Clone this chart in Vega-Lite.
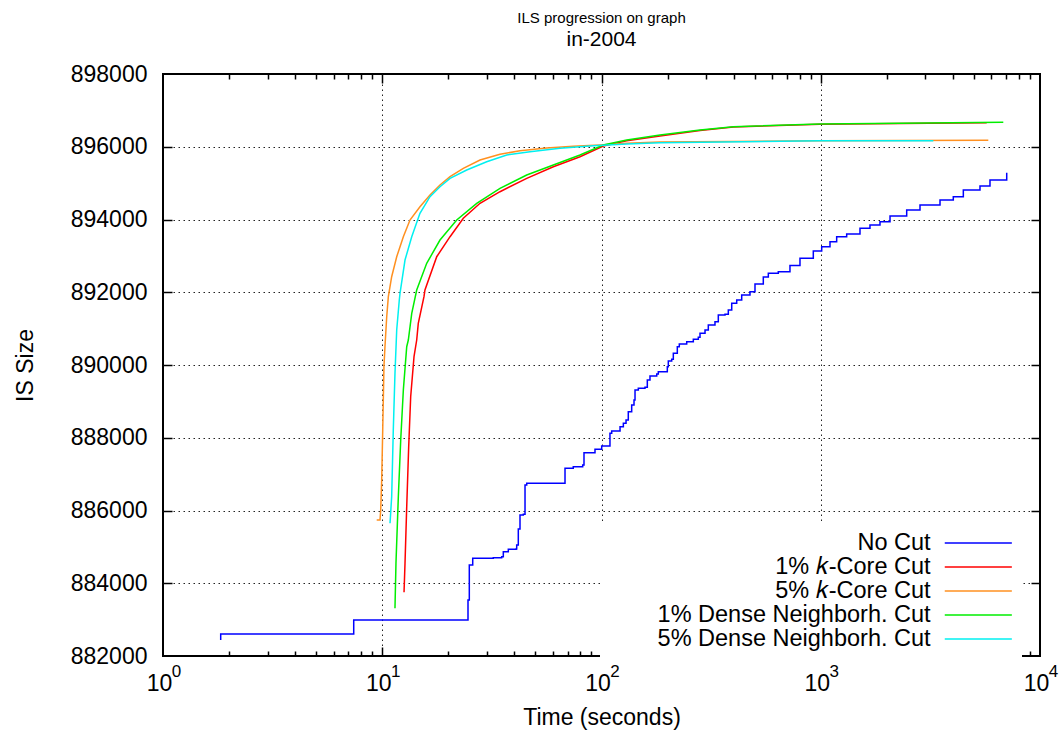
{
  "$schema": "https://vega.github.io/schema/vega-lite/v6.json",
  "width": 877,
  "height": 582,
  "autosize": {"type": "none"},
  "padding": {"left": 163, "top": 74, "right": 22, "bottom": 78},
  "background": "white",
  "title": {
    "text": "ILS progression on graph",
    "subtitle": "in-2004",
    "anchor": "middle",
    "frame": "group",
    "font": "Liberation Sans",
    "subtitleFont": "Liberation Sans",
    "fontSize": 15,
    "subtitleFontSize": 21,
    "fontWeight": "normal",
    "color": "black",
    "subtitleColor": "black",
    "offset": 13,
    "subtitlePadding": 3
  },
  "config": {
    "view": {"stroke": "black", "strokeWidth": 2},
    "axis": {
      "labelFont": "Liberation Sans",
      "titleFont": "Liberation Sans",
      "labelColor": "black",
      "titleColor": "black",
      "labelFontSize": 23,
      "titleFontSize": 23,
      "titleFontWeight": "normal",
      "domain": false,
      "tickColor": "black",
      "tickWidth": 1.5,
      "gridColor": "#222222",
      "gridDash": [1.5, 3.5],
      "gridWidth": 1,
      "gridOpacity": 1,
      "labelOverlap": false,
      "labelFlush": false
    }
  },
  "data": {
    "values": [
      {"series": "No Cut", "t": 1.833, "v": 882440},
      {"series": "No Cut", "t": 1.833, "v": 882605},
      {"series": "No Cut", "t": 7.411, "v": 882605},
      {"series": "No Cut", "t": 7.411, "v": 882990},
      {"series": "No Cut", "t": 24.28, "v": 882990},
      {"series": "No Cut", "t": 24.61, "v": 883540},
      {"series": "No Cut", "t": 24.95, "v": 884502},
      {"series": "No Cut", "t": 25.86, "v": 884686},
      {"series": "No Cut", "t": 32.10, "v": 884702},
      {"series": "No Cut", "t": 35.06, "v": 884730},
      {"series": "No Cut", "t": 35.66, "v": 884867},
      {"series": "No Cut", "t": 37.58, "v": 884933},
      {"series": "No Cut", "t": 40.74, "v": 884942},
      {"series": "No Cut", "t": 41.04, "v": 885051},
      {"series": "No Cut", "t": 41.74, "v": 885491},
      {"series": "No Cut", "t": 42.49, "v": 885876},
      {"series": "No Cut", "t": 43.99, "v": 885895},
      {"series": "No Cut", "t": 44.79, "v": 886701},
      {"series": "No Cut", "t": 45.60, "v": 886748},
      {"series": "No Cut", "t": 66.96, "v": 886748},
      {"series": "No Cut", "t": 68.17, "v": 887160},
      {"series": "No Cut", "t": 74.35, "v": 887204},
      {"series": "No Cut", "t": 82.08, "v": 887251},
      {"series": "No Cut", "t": 83.21, "v": 887589},
      {"series": "No Cut", "t": 91.74, "v": 887589},
      {"series": "No Cut", "t": 93.40, "v": 887682},
      {"series": "No Cut", "t": 100.2, "v": 887773},
      {"series": "No Cut", "t": 107.4, "v": 887773},
      {"series": "No Cut", "t": 109.3, "v": 888122},
      {"series": "No Cut", "t": 111.3, "v": 888185},
      {"series": "No Cut", "t": 117.3, "v": 888185},
      {"series": "No Cut", "t": 121.5, "v": 888304},
      {"series": "No Cut", "t": 125.8, "v": 888397},
      {"series": "No Cut", "t": 129.4, "v": 888488},
      {"series": "No Cut", "t": 132.5, "v": 888716},
      {"series": "No Cut", "t": 137.3, "v": 888900},
      {"series": "No Cut", "t": 140.7, "v": 889038},
      {"series": "No Cut", "t": 142.2, "v": 889313},
      {"series": "No Cut", "t": 147.2, "v": 889359},
      {"series": "No Cut", "t": 157.9, "v": 889387},
      {"series": "No Cut", "t": 161.8, "v": 889588},
      {"series": "No Cut", "t": 166.4, "v": 889697},
      {"series": "No Cut", "t": 178.6, "v": 889752},
      {"series": "No Cut", "t": 181.6, "v": 889816},
      {"series": "No Cut", "t": 191.4, "v": 889816},
      {"series": "No Cut", "t": 199.6, "v": 889953},
      {"series": "No Cut", "t": 201.7, "v": 890110},
      {"series": "No Cut", "t": 209.0, "v": 890157},
      {"series": "No Cut", "t": 212.6, "v": 890322},
      {"series": "No Cut", "t": 221.7, "v": 890503},
      {"series": "No Cut", "t": 226.4, "v": 890577},
      {"series": "No Cut", "t": 244.7, "v": 890640},
      {"series": "No Cut", "t": 262.3, "v": 890706},
      {"series": "No Cut", "t": 276.4, "v": 890761},
      {"series": "No Cut", "t": 281.4, "v": 890871},
      {"series": "No Cut", "t": 296.6, "v": 890962},
      {"series": "No Cut", "t": 307.0, "v": 891100},
      {"series": "No Cut", "t": 329.3, "v": 891190},
      {"series": "No Cut", "t": 341.0, "v": 891374},
      {"series": "No Cut", "t": 365.9, "v": 891394},
      {"series": "No Cut", "t": 378.8, "v": 891512},
      {"series": "No Cut", "t": 392.6, "v": 891696},
      {"series": "No Cut", "t": 413.7, "v": 891787},
      {"series": "No Cut", "t": 436.0, "v": 891924},
      {"series": "No Cut", "t": 475.6, "v": 892015},
      {"series": "No Cut", "t": 501.3, "v": 892227},
      {"series": "No Cut", "t": 547.0, "v": 892419},
      {"series": "No Cut", "t": 576.6, "v": 892521},
      {"series": "No Cut", "t": 640.3, "v": 892565},
      {"series": "No Cut", "t": 723.8, "v": 892735},
      {"series": "No Cut", "t": 804.0, "v": 892933},
      {"series": "No Cut", "t": 924.8, "v": 893134},
      {"series": "No Cut", "t": 1010, "v": 893252},
      {"series": "No Cut", "t": 1102, "v": 893390},
      {"series": "No Cut", "t": 1182, "v": 893527},
      {"series": "No Cut", "t": 1313, "v": 893601},
      {"series": "No Cut", "t": 1510, "v": 893758},
      {"series": "No Cut", "t": 1677, "v": 893849},
      {"series": "No Cut", "t": 1863, "v": 893939},
      {"series": "No Cut", "t": 2070, "v": 894096},
      {"series": "No Cut", "t": 2466, "v": 894261},
      {"series": "No Cut", "t": 2836, "v": 894398},
      {"series": "No Cut", "t": 3499, "v": 894536},
      {"series": "No Cut", "t": 4023, "v": 894627},
      {"series": "No Cut", "t": 4470, "v": 894811},
      {"series": "No Cut", "t": 5325, "v": 894921},
      {"series": "No Cut", "t": 5914, "v": 895086},
      {"series": "No Cut", "t": 7050, "v": 895287},

      {"series": "1% 𝑘-Core Cut", "t": 12.57, "v": 883751},
      {"series": "1% 𝑘-Core Cut", "t": 12.70, "v": 884548},
      {"series": "1% 𝑘-Core Cut", "t": 12.93, "v": 886104},
      {"series": "1% 𝑘-Core Cut", "t": 13.20, "v": 887754},
      {"series": "1% 𝑘-Core Cut", "t": 13.48, "v": 889128},
      {"series": "1% 𝑘-Core Cut", "t": 13.96, "v": 890228},
      {"series": "1% 𝑘-Core Cut", "t": 14.36, "v": 890687},
      {"series": "1% 𝑘-Core Cut", "t": 14.60, "v": 891146},
      {"series": "1% 𝑘-Core Cut", "t": 15.50, "v": 891878},
      {"series": "1% 𝑘-Core Cut", "t": 15.66, "v": 892062},
      {"series": "1% 𝑘-Core Cut", "t": 17.72, "v": 892977},
      {"series": "1% 𝑘-Core Cut", "t": 20.38, "v": 893527},
      {"series": "1% 𝑘-Core Cut", "t": 23.43, "v": 894033},
      {"series": "1% 𝑘-Core Cut", "t": 27.92, "v": 894445},
      {"series": "1% 𝑘-Core Cut", "t": 34.44, "v": 894764},
      {"series": "1% 𝑘-Core Cut", "t": 45.60, "v": 895132},
      {"series": "1% 𝑘-Core Cut", "t": 60.3, "v": 895451},
      {"series": "1% 𝑘-Core Cut", "t": 79.8, "v": 895726},
      {"series": "1% 𝑘-Core Cut", "t": 101.9, "v": 896020},
      {"series": "1% 𝑘-Core Cut", "t": 130.3, "v": 896166},
      {"series": "1% 𝑘-Core Cut", "t": 184.9, "v": 896295},
      {"series": "1% 𝑘-Core Cut", "t": 281.4, "v": 896446},
      {"series": "1% 𝑘-Core Cut", "t": 399.3, "v": 896543},
      {"series": "1% 𝑘-Core Cut", "t": 992, "v": 896620},
      {"series": "1% 𝑘-Core Cut", "t": 2298, "v": 896639},
      {"series": "1% 𝑘-Core Cut", "t": 5714, "v": 896661},

      {"series": "5% 𝑘-Core Cut", "t": 9.434, "v": 885739},
      {"series": "5% 𝑘-Core Cut", "t": 9.767, "v": 885739},
      {"series": "5% 𝑘-Core Cut", "t": 9.84, "v": 886014},
      {"series": "5% 𝑘-Core Cut", "t": 9.94, "v": 886838},
      {"series": "5% 𝑘-Core Cut", "t": 10.05, "v": 888213},
      {"series": "5% 𝑘-Core Cut", "t": 10.18, "v": 889953},
      {"series": "5% 𝑘-Core Cut", "t": 10.29, "v": 890503},
      {"series": "5% 𝑘-Core Cut", "t": 10.48, "v": 891328},
      {"series": "5% 𝑘-Core Cut", "t": 10.66, "v": 891878},
      {"series": "5% 𝑘-Core Cut", "t": 11.04, "v": 892427},
      {"series": "5% 𝑘-Core Cut", "t": 11.64, "v": 892977},
      {"series": "5% 𝑘-Core Cut", "t": 12.48, "v": 893527},
      {"series": "5% 𝑘-Core Cut", "t": 13.38, "v": 893986},
      {"series": "5% 𝑘-Core Cut", "t": 14.86, "v": 894352},
      {"series": "5% 𝑘-Core Cut", "t": 16.51, "v": 894673},
      {"series": "5% 𝑘-Core Cut", "t": 18.34, "v": 894948},
      {"series": "5% 𝑘-Core Cut", "t": 20.38, "v": 895176},
      {"series": "5% 𝑘-Core Cut", "t": 23.43, "v": 895407},
      {"series": "5% 𝑘-Core Cut", "t": 27.92, "v": 895636},
      {"series": "5% 𝑘-Core Cut", "t": 34.44, "v": 895792},
      {"series": "5% 𝑘-Core Cut", "t": 42.49, "v": 895891},
      {"series": "5% 𝑘-Core Cut", "t": 56.24, "v": 895965},
      {"series": "5% 𝑘-Core Cut", "t": 74.35, "v": 896012},
      {"series": "5% 𝑘-Core Cut", "t": 98.4, "v": 896048},
      {"series": "5% 𝑘-Core Cut", "t": 130.3, "v": 896095},
      {"series": "5% 𝑘-Core Cut", "t": 184.9, "v": 896130},
      {"series": "5% 𝑘-Core Cut", "t": 992, "v": 896166},
      {"series": "5% 𝑘-Core Cut", "t": 5810, "v": 896177},

      {"series": "1% Dense Neighborh. Cut", "t": 11.43, "v": 883311},
      {"series": "1% Dense Neighborh. Cut", "t": 11.55, "v": 884548},
      {"series": "1% Dense Neighborh. Cut", "t": 11.84, "v": 886379},
      {"series": "1% Dense Neighborh. Cut", "t": 12.14, "v": 887938},
      {"series": "1% Dense Neighborh. Cut", "t": 12.48, "v": 889313},
      {"series": "1% Dense Neighborh. Cut", "t": 12.93, "v": 890503},
      {"series": "1% Dense Neighborh. Cut", "t": 13.15, "v": 890687},
      {"series": "1% Dense Neighborh. Cut", "t": 13.63, "v": 891421},
      {"series": "1% Dense Neighborh. Cut", "t": 14.36, "v": 892062},
      {"series": "1% Dense Neighborh. Cut", "t": 15.95, "v": 892796},
      {"series": "1% Dense Neighborh. Cut", "t": 18.34, "v": 893436},
      {"series": "1% Dense Neighborh. Cut", "t": 21.86, "v": 893986},
      {"series": "1% Dense Neighborh. Cut", "t": 26.97, "v": 894445},
      {"series": "1% Dense Neighborh. Cut", "t": 34.44, "v": 894857},
      {"series": "1% Dense Neighborh. Cut", "t": 45.60, "v": 895223},
      {"series": "1% Dense Neighborh. Cut", "t": 60.3, "v": 895498},
      {"series": "1% Dense Neighborh. Cut", "t": 79.8, "v": 895773},
      {"series": "1% Dense Neighborh. Cut", "t": 101.9, "v": 896048},
      {"series": "1% Dense Neighborh. Cut", "t": 130.3, "v": 896185},
      {"series": "1% Dense Neighborh. Cut", "t": 184.9, "v": 896323},
      {"series": "1% Dense Neighborh. Cut", "t": 281.4, "v": 896460},
      {"series": "1% Dense Neighborh. Cut", "t": 399.3, "v": 896551},
      {"series": "1% Dense Neighborh. Cut", "t": 992, "v": 896625},
      {"series": "1% Dense Neighborh. Cut", "t": 2298, "v": 896644},
      {"series": "1% Dense Neighborh. Cut", "t": 6801, "v": 896672},

      {"series": "5% Dense Neighborh. Cut", "t": 10.85, "v": 885648},
      {"series": "5% Dense Neighborh. Cut", "t": 11.04, "v": 886379},
      {"series": "5% Dense Neighborh. Cut", "t": 11.23, "v": 888213},
      {"series": "5% Dense Neighborh. Cut", "t": 11.43, "v": 889772},
      {"series": "5% Dense Neighborh. Cut", "t": 11.64, "v": 890962},
      {"series": "5% Dense Neighborh. Cut", "t": 11.96, "v": 891787},
      {"series": "5% Dense Neighborh. Cut", "t": 12.05, "v": 891971},
      {"series": "5% Dense Neighborh. Cut", "t": 12.70, "v": 892886},
      {"series": "5% Dense Neighborh. Cut", "t": 13.63, "v": 893527},
      {"series": "5% Dense Neighborh. Cut", "t": 14.86, "v": 894170},
      {"series": "5% Dense Neighborh. Cut", "t": 16.51, "v": 894627},
      {"series": "5% Dense Neighborh. Cut", "t": 18.34, "v": 894902},
      {"series": "5% Dense Neighborh. Cut", "t": 20.38, "v": 895132},
      {"series": "5% Dense Neighborh. Cut", "t": 24.28, "v": 895361},
      {"series": "5% Dense Neighborh. Cut", "t": 29.95, "v": 895589},
      {"series": "5% Dense Neighborh. Cut", "t": 36.96, "v": 895773},
      {"series": "5% Dense Neighborh. Cut", "t": 47.2, "v": 895864},
      {"series": "5% Dense Neighborh. Cut", "t": 64.7, "v": 895957},
      {"series": "5% Dense Neighborh. Cut", "t": 91.7, "v": 896029},
      {"series": "5% Dense Neighborh. Cut", "t": 130.3, "v": 896075},
      {"series": "5% Dense Neighborh. Cut", "t": 184.9, "v": 896111},
      {"series": "5% Dense Neighborh. Cut", "t": 992, "v": 896163},
      {"series": "5% Dense Neighborh. Cut", "t": 3262, "v": 896166}
    ]
  },
  "resolve": {"axis": {"x": "independent", "y": "independent"}},
  "layer": [
    {
      "transform": [{"filter": "datum.series === 'No Cut'"}],
      "mark": {"type": "line", "interpolate": "step-after", "strokeWidth": 1.5},
      "encoding": {
        "x": {
          "field": "t", "type": "quantitative",
          "scale": {"type": "log", "domain": [1, 10000], "nice": false},
          "axis": {
            "orient": "bottom", "values": [1, 10, 100, 1000, 10000],
            "labelExpr": "'10'", "ticks": false, "grid": false,
            "labelAlign": "center", "labelOffset": -4, "labelBaseline": "middle", "labelPadding": 27,
            "title": "Time (seconds)", "titleX": 438.5, "titleY": 61,
            "titleBaseline": "middle", "titleAlign": "center", "titleAnchor": null
          }
        },
        "y": {
          "field": "v", "type": "quantitative",
          "scale": {"domain": [882000, 898000], "nice": false, "zero": false},
          "axis": {
            "orient": "left",
            "values": [882000, 884000, 886000, 888000, 890000, 892000, 894000, 896000, 898000],
            "format": "d", "ticks": false, "grid": false,
            "labelPadding": 16, "labelBaseline": "middle",
            "title": "IS Size", "titleX": -138, "titleY": 291, "titleAngle": 270,
            "titleBaseline": "middle", "titleAlign": "center", "titleAnchor": null
          }
        },
        "color": {
          "field": "series", "type": "nominal", "sort": null,
          "scale": {
            "domain": ["No Cut", "1% 𝑘-Core Cut", "5% 𝑘-Core Cut", "1% Dense Neighborh. Cut", "5% Dense Neighborh. Cut"],
            "range": ["#0000ff", "#ff0000", "#ff9020", "#00ee00", "#00f0f0"]
          },
          "legend": {
            "orient": "none", "legendX": 437, "legendY": 450, "title": null,
            "symbolType": "M-3,0H3", "symbolSize": 500, "symbolStrokeWidth": 1.5,
            "labelFont": "Liberation Sans", "labelFontSize": 23.5, "labelColor": "black",
            "labelAlign": "right", "labelBaseline": "middle", "labelLimit": 0,
            "labelOffset": -59.7, "symbolOffset": 359.3,
            "rowPadding": 0, "padding": 7,
            "fillColor": "white", "strokeColor": null
          }
        }
      }
    },
    {
      "transform": [{"filter": "datum.series !== 'No Cut'"}],
      "mark": {"type": "line", "strokeWidth": 1.5},
      "encoding": {
        "x": {"field": "t", "type": "quantitative", "scale": {"type": "log", "domain": [1, 10000], "nice": false}, "axis": null},
        "y": {"field": "v", "type": "quantitative", "scale": {"domain": [882000, 898000], "nice": false, "zero": false}, "axis": null},
        "color": {
          "field": "series", "type": "nominal", "sort": null,
          "scale": {
            "domain": ["No Cut", "1% 𝑘-Core Cut", "5% 𝑘-Core Cut", "1% Dense Neighborh. Cut", "5% Dense Neighborh. Cut"],
            "range": ["#0000ff", "#ff0000", "#ff9020", "#00ee00", "#00f0f0"]
          },
          "legend": {
            "orient": "none", "legendX": 437, "legendY": 450, "title": null,
            "symbolType": "M-3,0H3", "symbolSize": 500, "symbolStrokeWidth": 1.5,
            "labelFont": "Liberation Sans", "labelFontSize": 23.5, "labelColor": "black",
            "labelAlign": "right", "labelBaseline": "middle", "labelLimit": 0,
            "labelOffset": -59.7, "symbolOffset": 359.3,
            "rowPadding": 0, "padding": 7,
            "fillColor": "white", "strokeColor": null
          }
        }
      }
    },
    {
      "mark": {"type": "point", "opacity": 0},
      "encoding": {
        "x": {
          "field": "t", "type": "quantitative",
          "scale": {"type": "log", "domain": [1, 10000], "nice": false},
          "axis": {
            "orient": "bottom", "values": [1, 10, 100, 1000, 10000],
            "labelExpr": "round(log(datum.value) / LN10) + ''",
            "ticks": false, "grid": false, "labelFontSize": 17,
            "labelAlign": "center", "labelOffset": 13, "labelBaseline": "middle", "labelPadding": 15.5,
            "title": null
          }
        },
        "y": {
          "field": "v", "type": "quantitative",
          "scale": {"domain": [882000, 898000], "nice": false, "zero": false},
          "axis": {
            "orient": "left", "values": [884000, 886000, 888000, 890000, 892000, 894000, 896000],
            "tickSize": -9, "labels": false, "grid": true, "title": null
          }
        }
      }
    },
    {
      "mark": {"type": "point", "opacity": 0},
      "encoding": {
        "x": {
          "field": "t", "type": "quantitative",
          "scale": {"type": "log", "domain": [1, 10000], "nice": false},
          "axis": {"orient": "bottom", "values": [10, 100, 1000], "tickSize": -9, "labels": false, "grid": true, "title": null}
        },
        "y": {
          "field": "v", "type": "quantitative",
          "scale": {"domain": [882000, 898000], "nice": false, "zero": false},
          "axis": {"orient": "right", "values": [884000, 886000, 888000, 890000, 892000, 894000, 896000], "tickSize": -9, "labels": false, "grid": false, "title": null}
        }
      }
    },
    {
      "mark": {"type": "point", "opacity": 0},
      "encoding": {
        "x": {
          "field": "t", "type": "quantitative",
          "scale": {"type": "log", "domain": [1, 10000], "nice": false},
          "axis": {"orient": "bottom", "values": [2, 3, 4, 5, 6, 7, 8, 9, 20, 30, 40, 50, 60, 70, 80, 90, 200, 300, 400, 500, 600, 700, 800, 900, 2000, 3000, 4000, 5000, 6000, 7000, 8000, 9000], "tickSize": -5, "labels": false, "grid": false, "title": null}
        },
        "y": {"field": "v", "type": "quantitative", "scale": {"domain": [882000, 898000], "nice": false, "zero": false}, "axis": null}
      }
    },
    {
      "mark": {"type": "point", "opacity": 0},
      "encoding": {
        "x": {
          "field": "t", "type": "quantitative",
          "scale": {"type": "log", "domain": [1, 10000], "nice": false},
          "axis": {"orient": "top", "values": [10, 100, 1000], "tickSize": -9, "labels": false, "grid": false, "title": null}
        },
        "y": {"field": "v", "type": "quantitative", "scale": {"domain": [882000, 898000], "nice": false, "zero": false}, "axis": null}
      }
    },
    {
      "mark": {"type": "point", "opacity": 0},
      "encoding": {
        "x": {
          "field": "t", "type": "quantitative",
          "scale": {"type": "log", "domain": [1, 10000], "nice": false},
          "axis": {"orient": "top", "values": [2, 3, 4, 5, 6, 7, 8, 9, 20, 30, 40, 50, 60, 70, 80, 90, 200, 300, 400, 500, 600, 700, 800, 900, 2000, 3000, 4000, 5000, 6000, 7000, 8000, 9000], "tickSize": -5, "labels": false, "grid": false, "title": null}
        },
        "y": {"field": "v", "type": "quantitative", "scale": {"domain": [882000, 898000], "nice": false, "zero": false}, "axis": null}
      }
    }
  ]
}
